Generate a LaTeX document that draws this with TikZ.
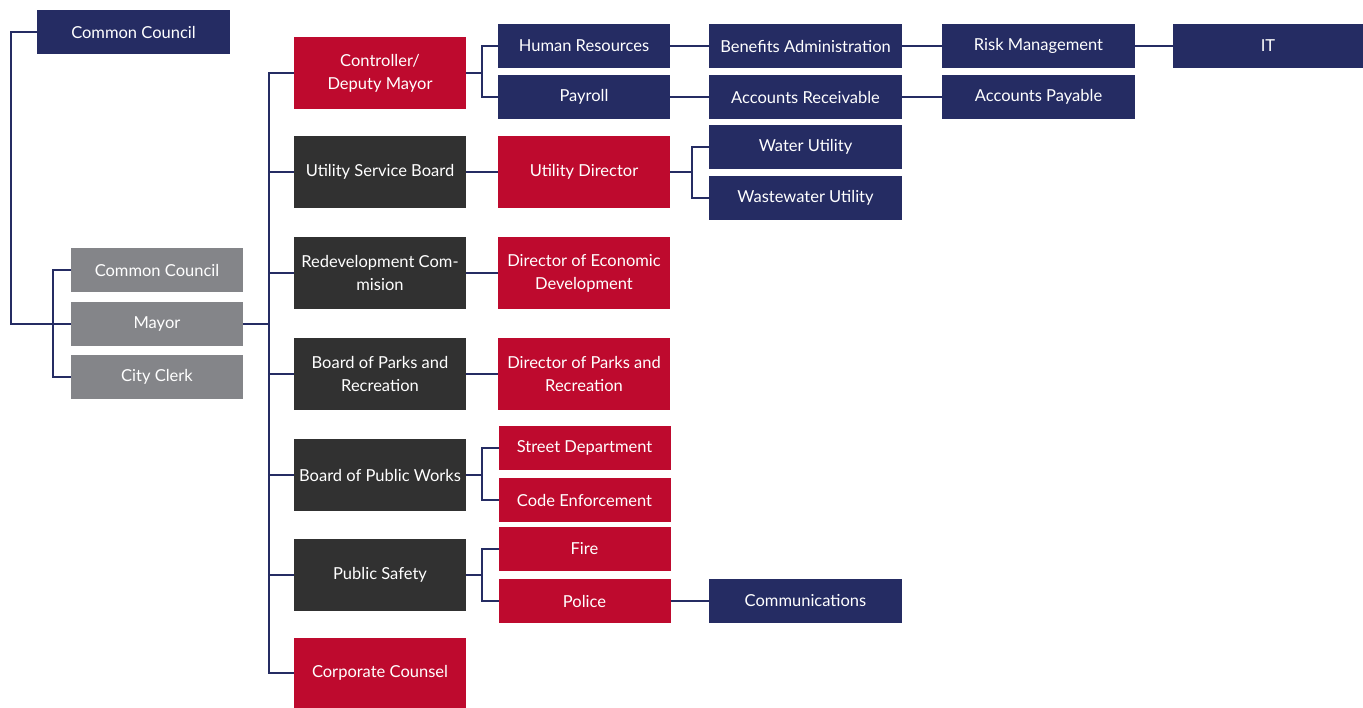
\documentclass[tikz,border=0pt]{standalone}
\usepackage{fontspec}
\setmainfont{Lato}
\usepackage{xcolor}
\definecolor{navy}{HTML}{252C63}
\definecolor{crimson}{HTML}{BE0A2E}
\definecolor{charcoal}{HTML}{313131}
\definecolor{slate}{HTML}{848589}
\usetikzlibrary{positioning}

\begin{document}
\begin{tikzpicture}[x=1pt,y=-1pt,-,draw=navy,line width=2pt,node distance=7pt,
  main node/.style={rectangle,inner sep=0pt,outer sep=0pt,minimum width=172pt,minimum height=44pt,align=center,text=white,font=\fontsize{16.5}{23}\selectfont},
  navy node/.style={main node,fill=navy},
  red node/.style={main node,fill=crimson},
  dark node/.style={main node,fill=charcoal},
  grey node/.style={main node,fill=slate},
  tall/.style={minimum height=72pt},
  wide/.style={minimum width=193pt}]

            \useasboundingbox (0,0) rectangle (1363,708);

            \node[navy node, wide] (1) at (133.5,32) {Common Council};
            \node[grey node] (3) at (157,324) {Mayor};
            \node[grey node] (2) [above=10pt of 3] {Common Council};
            \node[grey node] (4) [below=9pt of 3] {City Clerk};

            \node[red node, tall] (5) at (380,73) {Controller/\\Deputy Mayor};
            \node[dark node, tall] (6) at (380,172) {Utility Service Board};
            \node[dark node, tall] (7) at (380,273) {Redevelopment Com-\\mision};
            \node[dark node, tall] (8) at (380,374) {Board of Parks and\\Recreation};
            \node[dark node, tall] (9) at (380,475) {Board of Public Works};
            \node[dark node, tall] (10) at (380,575) {Public Safety};
            \node[red node, minimum height=70pt] (11) at (380,673) {Corporate Counsel};

            \node[navy node] (12) at (584,46) {Human Resources};
            \node[navy node] (13) [below=of 12] {Payroll};
            \node[red node, tall] (14) at (584,172) {Utility Director};
            \node[red node, tall] (15) at (584,273) {Director of Economic\\Development};
            \node[red node, tall] (16) at (584,374) {Director of Parks and\\Recreation};
            \node[red node] (17) at (584.5,448) {Street Department};
            \node[red node] (18) [below=8pt of 17] {Code Enforcement};
            \node[red node] (19) at (584.5,549) {Fire};
            \node[red node] (20) [below=8pt of 19] {Police};

            \node[navy node, wide] (21) at (805.5,46) {Benefits Administration};
            \node[navy node, wide] (22) [below=of 21] {Accounts Receivable};
            \node[navy node, wide] (23) at (805.5,147) {Water Utility};
            \node[navy node, wide] (24) [below=of 23] {Wastewater Utility};
            \node[navy node, wide] (25) at (805.5,601) {Communications};

            \node[navy node, wide] (26) at (1038.5,46) {Risk Management};
            \node[navy node, wide] (27) [below=of 26] {Accounts Payable};
            \node[navy node, minimum width=190pt] (28) at (1268,46) {IT};

            \coordinate (0) at (11,324);
            \coordinate (t) at (269,673);

            \draw (1.west) -| (0) -- (3.west);
            \draw (2.west) -- ++(-18,0) |- (4.west);
            \draw (5.west) -| (t) -- (11.west);
            \draw (3.east) -- (3.east -| t);
            \foreach \n in {6,...,10}
                \draw (\n.west -| t) -- (\n.west);

            \draw (5.east) -- ++(16,0) |- (12.west);
            \draw (5.east) -- ++(16,0) |- (13.west);
            \draw (14.east) -- ++(22,0) |- (23.west);
            \draw (14.east) -- ++(22,0) |- (24.west);
            \draw (9.east) -- ++(16,0) |- (17.west);
            \draw (9.east) -- ++(16,0) |- (18.west);
            \draw (10.east) -- ++(16,0) |- (19.west);
            \draw (10.east) -- ++(16,0) |- (20.west);

            \foreach \a/\b in {12/21,21/26,26/28,13/22,22/27,6/14,7/15,8/16,20/25}
                \draw (\a) -- (\b);
            % \draw (4) -- (3);

        \end{tikzpicture}
\end{document}
